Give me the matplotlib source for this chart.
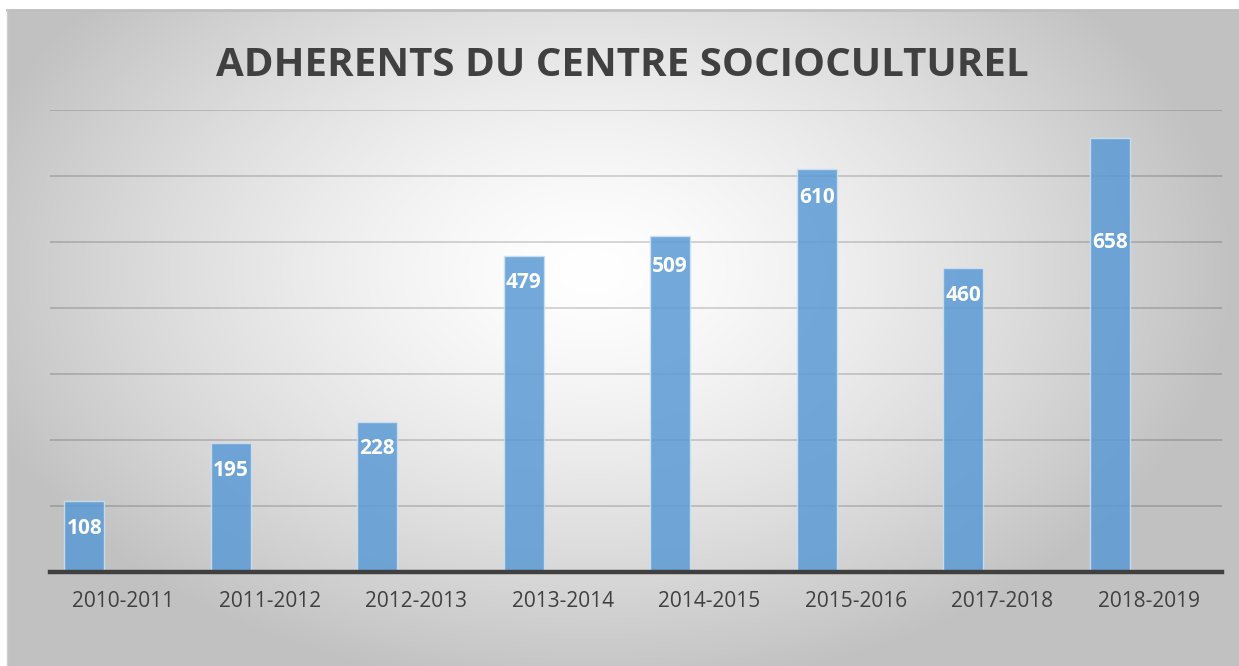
import numpy as np
import matplotlib
matplotlib.use("Agg")
import matplotlib.pyplot as plt

categories = ["2010-2011", "2011-2012", "2012-2013", "2013-2014",
              "2014-2015", "2015-2016", "2017-2018", "2018-2019"]
adherents = [108, 195, 228, 479, 509, 610, 460, 658]
title = "ADHERENTS DU CENTRE SOCIOCULTUREL"

W, H = 1239, 666
fig = plt.figure(figsize=(W / 100, H / 100), dpi=100)
fig.patch.set_facecolor("white")

# background chart area with radial gradient
bx0, by0, bx1, by1 = 7, 10, 1239, 666
bg = fig.add_axes([bx0 / W, 1 - by1 / H, (bx1 - bx0) / W, (by1 - by0) / H])
bg.set_axis_off()
xs = np.arange(bx0, bx1)
ys = np.arange(by0, by1)
X, Y = np.meshgrid(xs, ys)
cx, cy = 590, 270
r = np.sqrt(((X - cx) / 640.0) ** 2 + ((Y - cy) / 420.0) ** 2)
v = 1 - 0.24 * np.clip(r, 0, 1) ** 1.4
img = np.dstack([v, v, v])
bg.imshow(img, extent=[0, 1, 0, 1], aspect="auto", origin="upper", interpolation="bilinear")
bg.set_xlim(0, 1)
bg.set_ylim(0, 1)
bg.plot([0, 1], [1, 1], color="#bfbfbf", lw=2, transform=bg.transAxes, clip_on=False)
bg.plot([0, 0], [0, 1], color="#cfcfcf", lw=1, transform=bg.transAxes, clip_on=False)

# main axes
L, R = 50, 1222
base, top = 572, 110
ax = fig.add_axes([L / W, 1 - base / H, (R - L) / W, (base - top) / H])
ax.patch.set_alpha(0)

x = np.arange(len(categories))
cat_px = (R - L) / len(categories)
offset = -39 / cat_px
width = 40 / cat_px

ax.set_xlim(-0.5, len(categories) - 0.5)
ax.set_ylim(0, 700)
ax.set_yticks(np.arange(100, 701, 100))
ax.yaxis.grid(True, color="#000000", alpha=0.17, lw=1.3)
ax.set_axisbelow(True)

bars = ax.bar(x + offset, adherents, width=width, color="#5b9bd5", alpha=0.85,
              edgecolor="#cfe2f3", linewidth=1.0, zorder=2)

label_drop = [28, 27, 27, 27, 30, 28, 27, 105]
for xi, val, d in zip(x + offset, adherents, label_drop):
    ax.annotate(str(val), xy=(xi, val), xytext=(0, -d * 0.72), textcoords="offset points",
                ha="center", va="center", color="white", fontsize=15,
                fontweight="bold", family="Open Sans", zorder=3)

for s in ["left", "right", "top"]:
    ax.spines[s].set_visible(False)
ax.spines["bottom"].set_color("#404040")
ax.spines["bottom"].set_linewidth(3.2)
ax.spines["bottom"].set_zorder(4)

ax.set_xticks(x)
ax.set_xticklabels(categories, fontsize=15, color="#404040", family="Open Sans")
ax.tick_params(axis="x", length=0, pad=14)
ax.tick_params(axis="y", length=0, labelleft=False)

fig.text(622 / W, 1 - 65 / H, title, ha="center", va="center", fontsize=29,
         fontweight="bold", color="#404040", family="Open Sans")

fig.savefig("out.png", dpi=100)
